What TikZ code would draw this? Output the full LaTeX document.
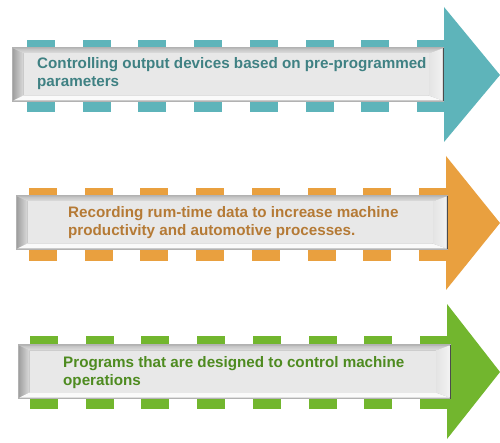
\documentclass[tikz,border=0pt]{standalone}
\usepackage{fontspec}
\setmainfont{Liberation Sans}
\begin{document}
\begin{tikzpicture}[x=1pt,y=-1pt,
  lbl/.style={anchor=base west,inner sep=0pt,font=\bfseries\fontsize{15.2}{18}\selectfont}]
\definecolor{tealA}{HTML}{5EB4BA}
\definecolor{tealT}{HTML}{3F8183}
\definecolor{orgA}{HTML}{E9A03F}
\definecolor{orgT}{HTML}{B57A35}
\definecolor{grnA}{HTML}{72B62E}
\definecolor{grnT}{HTML}{4E8B20}
\useasboundingbox (0,0) rectangle (500,443);
\fill[white] (0,0) rectangle (500,443);
% #1 colour, #2 band top, #3 band bottom, #4 dash start, #5 head x, #6 head top, #7 head bottom, #8 tip y
\newcommand{\myarrow}[8]{%
  \foreach \k in {0,...,7}{
    \fill[#1] ({#4+\k*55.7},#2) rectangle ({#4+\k*55.7+28},#3);
  }
  \fill[#1] (#5,#6) -- (500,#8) -- (#5,#7) -- cycle;
}
\newcommand{\mybox}[4]{%
  \fill[black!30] (#1,#2) rectangle (#3,#4);
  \path[left color=black!36,right color=black!14]
     ({#1+1.5},{#2+1.5}) -- ({#1+11.5},{#2+6.5}) -- ({#1+11.5},{#4-6.5}) -- ({#1+1.5},{#4-1.5}) -- cycle;
  \path[top color=black!24,bottom color=black!12]
     ({#1+1.5},{#2+1.5}) -- ({#3-1.5},{#2+1.5}) -- ({#3-15.5},{#2+6.5}) -- ({#1+11.5},{#2+6.5}) -- cycle;
  \fill[black!2]
     ({#1+1.5},{#4-1.5}) -- ({#3-1.5},{#4-1.5}) -- ({#3-15.5},{#4-6.5}) -- ({#1+11.5},{#4-6.5}) -- cycle;
  \path[left color=black!11,right color=black!5]
     ({#3-1.5},{#2+1.5}) -- ({#3-15.5},{#2+6.5}) -- ({#3-15.5},{#4-6.5}) -- ({#3-1.5},{#4-1.5}) -- cycle;
  \fill[black!9] ({#1+11.5},{#2+6.5}) rectangle ({#3-15.5},{#4-6.5});
  \draw[black!70,line width=1.2pt] ({#3-0.6},{#2+1}) -- ({#3-0.6},{#4-0.5});
}
% arrow 1
\myarrow{tealA}{40}{112}{27}{444}{7}{142}{75}
\mybox{12}{47}{444}{102}
\node[lbl,text=tealT] (t1a) at (37,69) {Controlling output devices based on pre-programmed};
\node[lbl,text=tealT] (t1b) at (37,87) {parameters};
% arrow 2
\myarrow{orgA}{188}{261}{29}{446}{156}{290}{223}
\mybox{16}{195}{448}{250}
\node[lbl,text=orgT] (t2a) at (68,218) {Recording rum-time data to increase machine};
\node[lbl,text=orgT] (t2b) at (68,236) {productivity and automotive processes.};
% arrow 3
\myarrow{grnA}{336}{409}{30}{447}{304}{439}{372}
\mybox{18}{344}{451}{399}
\node[lbl,text=grnT] (t3a) at (63,367) {Programs that are designed to control machine};
\node[lbl,text=grnT] (t3b) at (63,385) {operations};
\end{tikzpicture}
\end{document}
